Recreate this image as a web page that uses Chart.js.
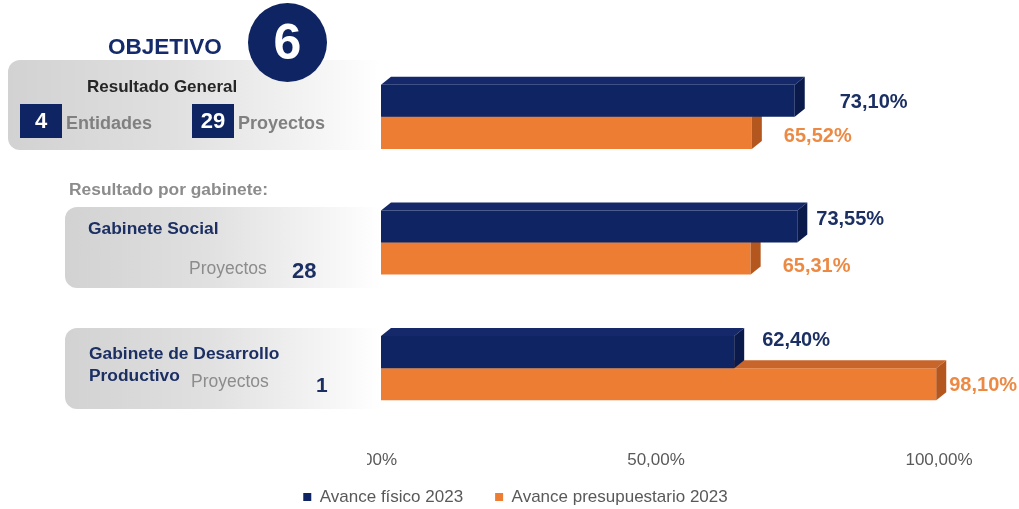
<!DOCTYPE html>
<html>
<head>
<meta charset="utf-8">
<script src="https://cdn.jsdelivr.net/npm/chart.js@4/dist/chart.umd.min.js"></script>
<style>
  html, body { margin:0; padding:0; background:#ffffff; overflow:hidden; }
  #wrap { position:relative; width:1019px; height:509px; font-family:"Liberation Sans", Arial, sans-serif; }
  #c { position:absolute; left:0; top:0; }
  .ov { position:absolute; pointer-events:none; }
  .panel { position:absolute; border-radius:12px 0 0 12px;
    background:linear-gradient(to right,#d2d2d2 0%,#e0e0e0 45%,#f3f3f3 80%,#ffffff 100%); }
  .t { position:absolute; white-space:nowrap; }
  .box { position:absolute; background:#0f2462; color:#fff; font-weight:bold; text-align:center; }
</style>
</head>
<body>
<div id="wrap">
  <div class="panel" style="left:8px;top:60px;width:372px;height:90px;"></div>
  <div class="panel" style="left:65px;top:207px;width:315px;height:81px;"></div>
  <div class="panel" style="left:65px;top:328px;width:315px;height:81px;"></div>

  <canvas id="c" width="1019" height="509"></canvas>

  <div class="t" style="left:108px;top:36px;font-size:22.5px;line-height:22.5px;font-weight:bold;color:#142a6b;">OBJETIVO</div>
  <div class="ov" style="left:248px;top:3px;width:79px;height:79px;border-radius:50%;background:#0f2462;color:#fff;font-weight:bold;font-size:50px;line-height:79px;text-align:center;">6</div>

  <div class="t" style="left:87px;top:78px;font-size:17px;line-height:17px;font-weight:bold;color:#262626;">Resultado General</div>
  <div class="box" style="left:20px;top:104px;width:42px;height:34px;font-size:22px;line-height:34px;">4</div>
  <div class="t" style="left:66px;top:114px;font-size:18px;line-height:18px;font-weight:bold;color:#808080;">Entidades</div>
  <div class="box" style="left:192px;top:104px;width:42px;height:34px;font-size:22px;line-height:34px;">29</div>
  <div class="t" style="left:238px;top:114px;font-size:18px;line-height:18px;font-weight:bold;color:#808080;">Proyectos</div>

  <div class="t" style="left:69px;top:181px;font-size:17.4px;line-height:17.4px;font-weight:bold;color:#8c8c8c;">Resultado por gabinete:</div>

  <div class="t" style="left:88px;top:220px;font-size:17.4px;line-height:17.4px;font-weight:bold;color:#1b2f63;">Gabinete Social</div>
  <div class="t" style="left:189px;top:260px;font-size:17.5px;line-height:17.5px;color:#8c8c8c;">Proyectos</div>
  <div class="t" style="left:292px;top:260px;font-size:22px;line-height:22px;font-weight:bold;color:#1b2f63;">28</div>

  <div class="t" style="left:89px;top:343px;font-size:17.4px;line-height:21.5px;font-weight:bold;color:#1b2f63;">Gabinete de Desarrollo<br>Productivo</div>
  <div class="t" style="left:191px;top:373px;font-size:17.5px;line-height:17.5px;color:#8c8c8c;">Proyectos</div>
  <div class="t" style="left:316px;top:374px;font-size:21px;line-height:21px;font-weight:bold;color:#1b2f63;">1</div>
</div>

<script>
// ---- data ----
const categories = ['Resultado General', 'Gabinete Social', 'Gabinete de Desarrollo Productivo'];
const seriesNames = ['Avance físico 2023', 'Avance presupuestario 2023'];
const avanceFisico = [73.10, 73.55, 62.40];
const avancePresupuestario = [65.52, 65.31, 98.10];
const xTickValues = [0, 50, 100];

// ---- styles ----
const FONT = '"Liberation Sans", Arial, sans-serif';
const navy = '#0f2462', navyTop = '#14286a', navySide = '#0a1a4b';
const orange = '#ec7d32', orangeTop = '#c8652a', orangeSide = '#b4571f';
const navyLabel = '#1b2f63', orangeLabel = '#ec8a44';
const DEPTH_X = 10, DEPTH_Y = 8;
// label placement relative to bar end / bar centre [dx, dy] per dataset per category
const labelShift = [
  [[45, 2], [19, -7], [28, -11.5]],
  [[32, 3.5], [32, 8], [13, 1.5]]
];

const fmt = v => v.toFixed(2).replace('.', ',') + '%';

const bar3d = {
  id: 'bar3d',
  afterDatasetDraw(chart, args) {
    const ctx = chart.ctx;
    const i = args.index;
    const top = i === 0 ? navyTop : orangeTop;
    const side = i === 0 ? navySide : orangeSide;
    args.meta.data.forEach(el => {
      const x0 = el.base, x1 = el.x, yT = el.y - el.height / 2, yB = el.y + el.height / 2;
      ctx.save();
      ctx.fillStyle = top;
      ctx.beginPath();
      ctx.moveTo(x0, yT); ctx.lineTo(x0 + DEPTH_X, yT - DEPTH_Y);
      ctx.lineTo(x1 + DEPTH_X, yT - DEPTH_Y); ctx.lineTo(x1, yT); ctx.closePath(); ctx.fill();
      ctx.fillStyle = side;
      ctx.beginPath();
      ctx.moveTo(x1, yT); ctx.lineTo(x1 + DEPTH_X, yT - DEPTH_Y);
      ctx.lineTo(x1 + DEPTH_X, yB - DEPTH_Y); ctx.lineTo(x1, yB); ctx.closePath(); ctx.fill();
      ctx.restore();
    });
  },
  afterDatasetsDraw(chart) {
    const ctx = chart.ctx;
    chart.data.datasets.forEach((ds, i) => {
      const meta = chart.getDatasetMeta(i);
      meta.data.forEach((el, j) => {
        const [dx, dy] = labelShift[i][j];
        ctx.save();
        ctx.font = 'bold 20px ' + FONT;
        ctx.fillStyle = i === 0 ? navyLabel : orangeLabel;
        ctx.textAlign = 'left';
        ctx.textBaseline = 'middle';
        ctx.fillText(fmt(ds.data[j]), el.x + dx, el.y + dy);
        ctx.restore();
      });
    });
  },
  afterDraw(chart) {
    // the first tick label is cut off at its left in the original
    const ctx = chart.ctx;
    ctx.save();
    ctx.fillStyle = '#ffffff';
    ctx.fillRect(330, 445, 37, 30);
    ctx.restore();
  }
};

new Chart(document.getElementById('c'), {
  type: 'bar',
  data: {
    labels: categories,
    datasets: [
      { label: seriesNames[0], data: avanceFisico, backgroundColor: navy, borderWidth: 0 },
      { label: seriesNames[1], data: avancePresupuestario, backgroundColor: orange, borderWidth: 0 }
    ]
  },
  options: {
    indexAxis: 'y',
    responsive: false,
    animation: false,
    devicePixelRatio: 1,
    categoryPercentage: 0.51,
    barPercentage: 1,
    layout: { padding: { left: 84, right: 72, top: 54, bottom: -6.5 } },
    scales: {
      y: {
        display: true,
        grid: { display: false, drawTicks: false },
        border: { display: false },
        ticks: { display: false },
        afterFit: s => { s.width = 297; s.paddingTop = 0; s.paddingBottom = 0; }
      },
      x: {
        min: 0, max: 100,
        grid: { display: false, drawTicks: false },
        border: { display: false },
        ticks: {
          padding: 19, labelOffset: -8, color: '#595959', maxRotation: 0,
          font: { family: FONT, size: 17 },
          callback: v => fmt(v)
        },
        afterBuildTicks: s => { s.ticks = xTickValues.map(v => ({ value: v })); },
        afterFit: s => {
          s.height = 25.5; s.paddingLeft = 0; s.paddingRight = 0;
          s._computeLabelArea = () => undefined;
        }
      }
    },
    plugins: {
      legend: {
        position: 'bottom',
        labels: {
          boxWidth: 8, boxHeight: 8, padding: 32, color: '#595959',
          font: { family: FONT, size: 17 }
        }
      },
      tooltip: { enabled: false }
    }
  },
  plugins: [bar3d]
});
</script>
</body>
</html>
